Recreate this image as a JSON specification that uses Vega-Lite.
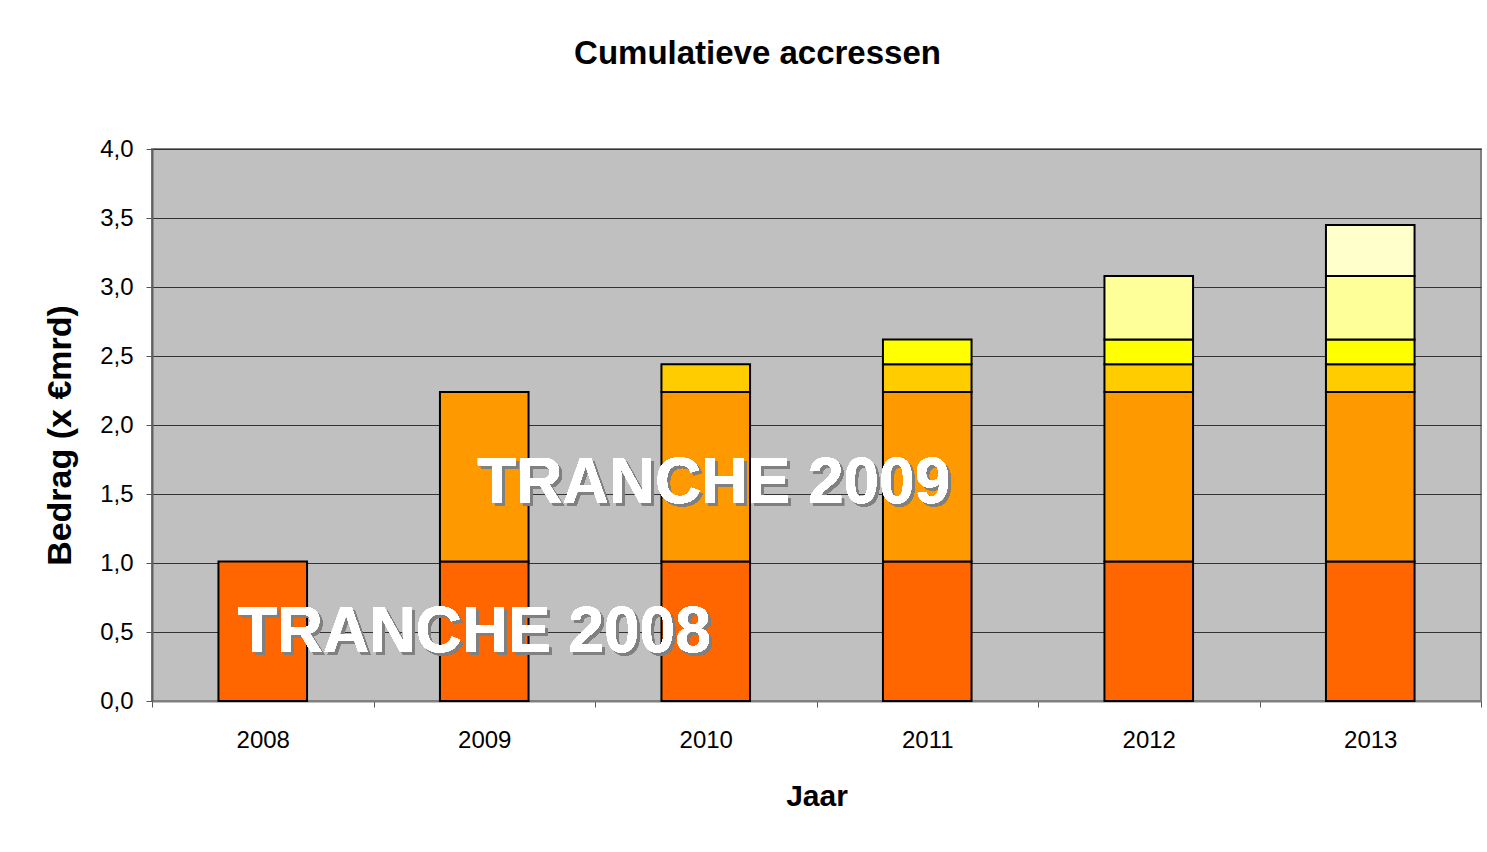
{
  "$schema": "https://vega.github.io/schema/vega-lite/v6.json",
  "width": 1329,
  "height": 552,
  "autosize": {"type": "none"},
  "padding": {"left": 152, "top": 149, "right": 6, "bottom": 151},
  "background": "white",
  "config": {
    "font": "Liberation Sans",
    "view": {"fill": "#C0C0C0", "stroke": "#808080", "strokeWidth": 2}
  },
  "title": {
    "text": "Cumulatieve accressen",
    "fontSize": 33,
    "fontWeight": "bold",
    "color": "black",
    "anchor": "middle",
    "offset": 66,
    "dx": -59
  },
  "data": {
    "values": [
      {"Jaar": "2008", "Tranche": "Tranche 2008", "Bedrag": 1.01},
      {"Jaar": "2009", "Tranche": "Tranche 2008", "Bedrag": 1.01},
      {"Jaar": "2009", "Tranche": "Tranche 2009", "Bedrag": 1.23},
      {"Jaar": "2010", "Tranche": "Tranche 2008", "Bedrag": 1.01},
      {"Jaar": "2010", "Tranche": "Tranche 2009", "Bedrag": 1.23},
      {"Jaar": "2010", "Tranche": "Tranche 2010", "Bedrag": 0.20},
      {"Jaar": "2011", "Tranche": "Tranche 2008", "Bedrag": 1.01},
      {"Jaar": "2011", "Tranche": "Tranche 2009", "Bedrag": 1.23},
      {"Jaar": "2011", "Tranche": "Tranche 2010", "Bedrag": 0.20},
      {"Jaar": "2011", "Tranche": "Tranche 2011", "Bedrag": 0.18},
      {"Jaar": "2012", "Tranche": "Tranche 2008", "Bedrag": 1.01},
      {"Jaar": "2012", "Tranche": "Tranche 2009", "Bedrag": 1.23},
      {"Jaar": "2012", "Tranche": "Tranche 2010", "Bedrag": 0.20},
      {"Jaar": "2012", "Tranche": "Tranche 2011", "Bedrag": 0.18},
      {"Jaar": "2012", "Tranche": "Tranche 2012", "Bedrag": 0.46},
      {"Jaar": "2013", "Tranche": "Tranche 2008", "Bedrag": 1.01},
      {"Jaar": "2013", "Tranche": "Tranche 2009", "Bedrag": 1.23},
      {"Jaar": "2013", "Tranche": "Tranche 2010", "Bedrag": 0.20},
      {"Jaar": "2013", "Tranche": "Tranche 2011", "Bedrag": 0.18},
      {"Jaar": "2013", "Tranche": "Tranche 2012", "Bedrag": 0.46},
      {"Jaar": "2013", "Tranche": "Tranche 2013", "Bedrag": 0.37}
    ]
  },
  "layer": [
    {
      "mark": {"type": "bar", "stroke": "black", "strokeWidth": 2, "width": {"band": 0.4}},
      "encoding": {
        "x": {
          "field": "Jaar",
          "type": "nominal",
          "scale": {"paddingInner": 0, "paddingOuter": 0},
          "axis": {
            "title": "Jaar",
            "titleFontSize": 30,
            "titleFontWeight": "bold",
            "titleColor": "black",
            "titlePadding": 29,
            "labelFontSize": 24,
            "labelColor": "black",
            "labelAngle": 0,
            "labelPadding": 21,
            "tickBand": "extent",
            "ticks": true,
            "tickSize": 6,
            "tickColor": "#555555",
            "domainColor": "#808080",
            "domainWidth": 2,
            "grid": false
          }
        },
        "y": {
          "field": "Bedrag",
          "type": "quantitative",
          "stack": "zero",
          "scale": {"domain": [0, 4], "nice": false},
          "axis": {
            "title": "Bedrag (x €mrd)",
            "titleFontSize": 34,
            "titleFontWeight": "bold",
            "titleColor": "black",
            "titlePadding": 22,
            "titleY": 286,
            "values": [0, 0.5, 1, 1.5, 2, 2.5, 3, 3.5, 4],
            "labelExpr": "replace(format(datum.value, '.1f'), '.', ',')",
            "labelFontSize": 24,
            "labelColor": "black",
            "labelPadding": 13,
            "tickSize": 6,
            "tickColor": "#555555",
            "domainColor": "#606060",
            "domainWidth": 2,
            "grid": true,
            "gridColor": "#333333",
            "gridWidth": 1
          }
        },
        "color": {
          "field": "Tranche",
          "type": "nominal",
          "scale": {
            "domain": ["Tranche 2008", "Tranche 2009", "Tranche 2010", "Tranche 2011", "Tranche 2012", "Tranche 2013"],
            "range": ["#FF6600", "#FF9900", "#FFCC00", "#FFFF00", "#FFFF99", "#FFFFCC"]
          },
          "legend": null
        },
        "order": {"field": "Tranche", "sort": "ascending"}
      }
    },
    {
      "mark": {"type": "text", "fontSize": 64, "fontWeight": "bold", "color": "#808080", "align": "center", "baseline": "middle", "dx": -7, "dy": 3},
      "encoding": {
        "x": {"datum": "2009", "type": "nominal"},
        "y": {"datum": 0.49, "type": "quantitative"},
        "text": {"value": "TRANCHE 2008"}
      }
    },
    {
      "mark": {"type": "text", "fontSize": 64, "fontWeight": "bold", "color": "white", "align": "center", "baseline": "middle", "dx": -10, "dy": 0},
      "encoding": {
        "x": {"datum": "2009", "type": "nominal"},
        "y": {"datum": 0.49, "type": "quantitative"},
        "text": {"value": "TRANCHE 2008"}
      }
    },
    {
      "mark": {"type": "text", "fontSize": 64, "fontWeight": "bold", "color": "#808080", "align": "center", "baseline": "middle", "dx": 11, "dy": 3},
      "encoding": {
        "x": {"datum": "2010", "type": "nominal"},
        "y": {"datum": 1.57, "type": "quantitative"},
        "text": {"value": "TRANCHE 2009"}
      }
    },
    {
      "mark": {"type": "text", "fontSize": 64, "fontWeight": "bold", "color": "white", "align": "center", "baseline": "middle", "dx": 8, "dy": 0},
      "encoding": {
        "x": {"datum": "2010", "type": "nominal"},
        "y": {"datum": 1.57, "type": "quantitative"},
        "text": {"value": "TRANCHE 2009"}
      }
    }
  ]
}
